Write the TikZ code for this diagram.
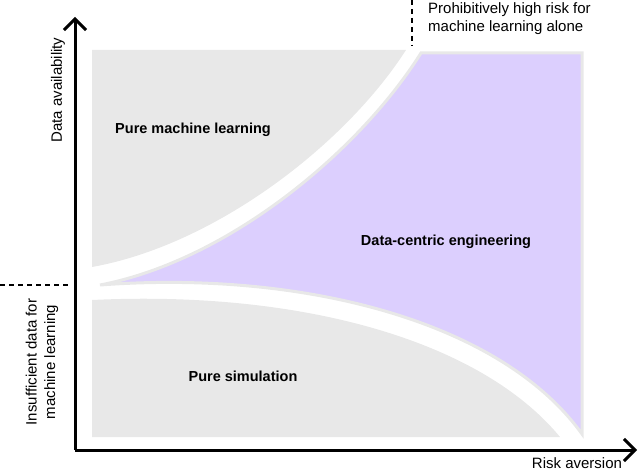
\documentclass[tikz,border=0pt]{standalone}
\usepackage{fontspec}
\setmainfont{Liberation Sans}
\usetikzlibrary{arrows.meta}
\definecolor{regiongray}{HTML}{E8E8E8}
\definecolor{regionpurple}{HTML}{DCCFFE}
\begin{document}
\begin{tikzpicture}[x=1pt,y=-1pt,
  axis/.style={line width=3pt,-{Straight Barb[length=11pt,width=22pt,line width=3pt]}},
  guide/.style={line width=2pt,dash pattern=on 5pt off 4pt},
  lbl/.style={font=\fontsize{15}{18.5}\selectfont,inner sep=0pt,align=center},
  blbl/.style={font=\fontsize{14.5}{17}\selectfont\bfseries,inner sep=0pt}]
\useasboundingbox (0,0) rectangle (640,473);
% regions
\fill[regiongray] (92,50) -- (406,50) .. controls (345,145) and (215,245) .. (92,267) -- cycle;
\fill[regiongray] (92,300) .. controls (300,290) and (480,340) .. (560,437) -- (92,437) -- cycle;
\filldraw[fill=regionpurple,draw=regiongray,line width=3pt,line join=miter]
  (421,53) -- (582,53) -- (582,434) .. controls (500,320) and (300,270) .. (100,285)
  .. controls (230,260) and (360,150) .. cycle;
% labels in regions
\node[blbl] (ml) at (193,130) {Pure machine learning};
\node[blbl] (dce) at (446,242) {Data-centric engineering};
\node[blbl] (sim) at (243,376) {Pure simulation};
% axes
\coordinate (o) at (75,450);
\coordinate (ytip) at (75,17);
\coordinate (xtip) at (637,450);
\draw[axis] (o) -- (ytip);
\draw[axis] (o) -- (xtip);
\node[lbl,rotate=90] (ya) at (58,90) {Data availability};
\node[lbl,anchor=south] (xa) at (577,469) {Risk aversion};
% guides
\coordinate (h1) at (0,285);
\coordinate (h2) at (70,285);
\coordinate (v1) at (412,0);
\coordinate (v2) at (412,46);
\draw[guide] (h1) -- (h2);
\draw[guide] (v1) -- (v2);
\node[lbl,rotate=90] (insuf) at (42,362) {Insufficient data for\\machine learning};
\node[lbl,align=left,anchor=north west] (prohib) at (428,2) {Prohibitively high risk for\\machine learning alone};
\end{tikzpicture}
\end{document}
